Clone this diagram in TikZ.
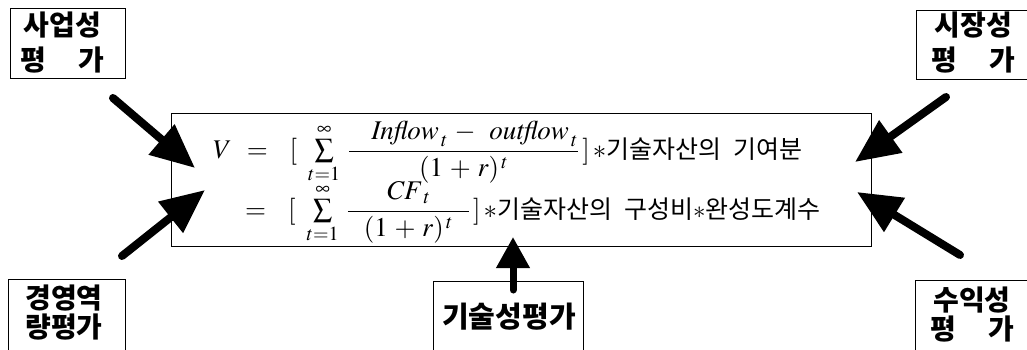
\documentclass[tikz,border=0pt]{standalone}
\usepackage{mathptmx}
\usepackage{fontspec}
\newfontfamily\kr{Noto Sans CJK KR}
\usetikzlibrary{arrows.meta}

\tikzset{
  evalbox/.style={draw, line width=1.3pt, rectangle, inner sep=0pt, anchor=north west},
  boxtext/.style={font=\kr\bfseries\fontsize{28}{28}\selectfont, inner sep=0pt, anchor=center},
  techtext/.style={font=\kr\bfseries\fontsize{29}{29}\selectfont, inner sep=0pt, anchor=center},
  formula/.style={font=\fontsize{27}{30}\selectfont, inner sep=0pt, anchor=base west},
  bigarrow/.style={line width=8pt, line cap=round, -{Triangle[length=44pt,width=38pt]}},
  uparrow/.style={line width=7pt, line cap=round, -{Triangle[length=31pt,width=32pt]}},
}
\newcommand{\spreadtwo}[2]{\makebox[3em]{#1\hfill #2}}
\newcommand{\kortext}[1]{{\kr\fontsize{25}{30}\selectfont #1}}
\newcommand{\kgap}{\hspace{12pt}}
\newcommand{\onepr}{(1\,+\,r)^{\,t}}

\begin{document}
\begin{tikzpicture}[x=1pt,y=-1pt]
\useasboundingbox (0,0) rectangle (1027,350);
\begin{scope}
  \clip (0,0) rectangle (1027,350);
  % evaluation boxes (some run past the page edge)
  \node[evalbox, minimum width=115pt, minimum height=70pt] (biz) at (10,8) {};
  \node[evalbox, minimum width=130pt, minimum height=69pt] (mkt) at (916,10) {};
  \node[evalbox, minimum width=117pt, minimum height=100pt] (mgmt) at (8,279) {};
  \node[evalbox, minimum width=130pt, minimum height=100pt] (prof) at (915,280) {};
  \node[evalbox, minimum width=150pt, minimum height=100pt] (tech) at (433,281) {};
  % central valuation box
  \node[evalbox, minimum width=700pt, minimum height=133pt] (main) at (171,113) {};
\end{scope}

% box labels
\node[boxtext] (biz1) at (62.5,25) {사업성};
\node[boxtext] (biz2) at (62.5,60) {\spreadtwo{평}{가}};
\node[boxtext] (mkt1) at (973.5,25) {시장성};
\node[boxtext] (mkt2) at (973.5,60) {\spreadtwo{평}{가}};
\node[boxtext] (mgmt1) at (64,298) {경영역};
\node[boxtext] (mgmt2) at (64,327) {량평가};
\node[boxtext] (prof1) at (972,300) {수익성};
\node[boxtext] (prof2) at (972,329) {\spreadtwo{평}{가}};
\node[techtext] (tech1) at (509,317) {기술성평가};

% valuation formula
\node[formula] (eq1) at (213,158)
  {$V\hspace{15pt}{=}\hspace{22pt}[\hspace{11pt}\sum\limits_{t=1}^{\infty}\hspace{5pt}\displaystyle\frac{\hspace{22pt}\mathit{Inflow}_{\,t}\,-\hspace{10pt}\mathit{outflow}_{\,t}}{\onepr}\hspace{3pt}]\,{\ast}$\kortext{기술자산의\kgap 기여분}};
\node[formula] (eq2) at (245,218)
  {${=}\hspace{22pt}[\hspace{11pt}\sum\limits_{t=1}^{\infty}\hspace{5pt}\displaystyle\frac{\mathit{CF}_{\,t}}{\hspace{16pt}\onepr\hspace{16pt}}\hspace{3pt}]\,{\ast}$\kortext{기술자산의\kgap 구성비$\ast$완성도계수}};

% arrow ends
\coordinate (bizTail) at (113,98);
\coordinate (bizTip) at (195,168);
\coordinate (mgmtTail) at (122,256);
\coordinate (mgmtTip) at (205,190);
\coordinate (mktTail) at (946,97);
\coordinate (mktTip) at (855,162);
\coordinate (profTail) at (960,255);
\coordinate (profTip) at (857,192);
\coordinate (techTail) at (513,290);
\coordinate (techTip) at (513,237);

\draw[bigarrow] (bizTail) -- (bizTip);
\draw[bigarrow] (mgmtTail) -- (mgmtTip);
\draw[bigarrow] (mktTail) -- (mktTip);
\draw[bigarrow] (profTail) -- (profTip);
\draw[uparrow] (techTail) -- (techTip);
\end{tikzpicture}
\end{document}
